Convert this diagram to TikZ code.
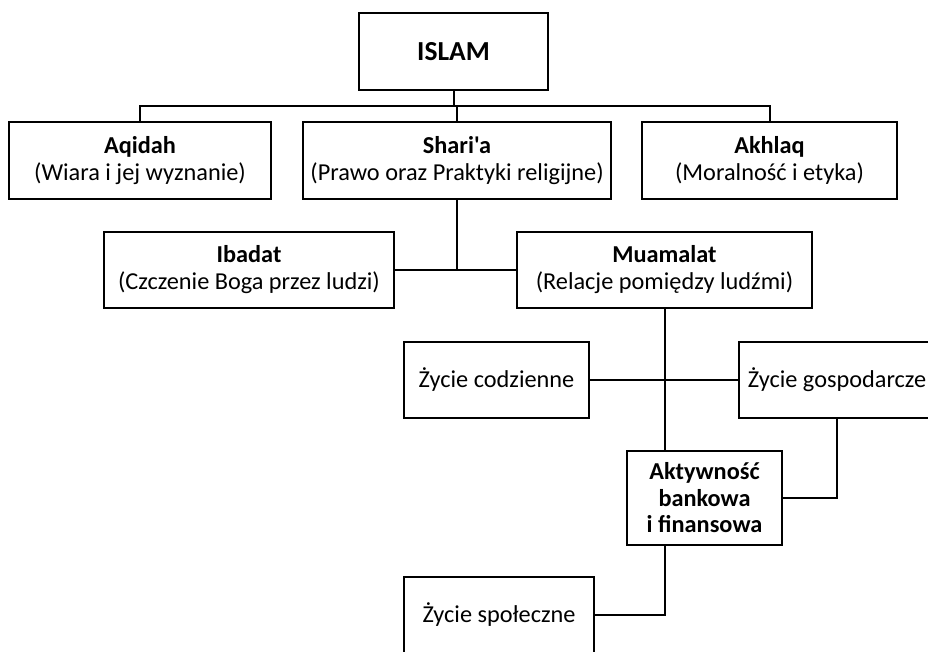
\documentclass[tikz,border=0pt]{standalone}
\usepackage{fontspec}
\setmainfont{Carlito}[Ligatures=TeXOff]
\begin{document}
\begin{tikzpicture}[x=1pt,y=-1pt,
  box/.style={draw=black,line width=2pt,fill=white,align=center,inner sep=0pt,
    font=\fontsize{24.3}{27}\selectfont},
  conn/.style={draw=black,line width=2pt}]
\useasboundingbox (0,0) rectangle (928,651);
\clip (0,0) rectangle (928,651);
% boxes
\node[box,minimum width=189pt,minimum height=77pt,font=\fontsize{27.5}{30}\selectfont\bfseries] (islam) at (453.5,51.5) {ISLAM};
\node[box,minimum width=262pt,minimum height=77pt] (aqidah) at (140,160.5) {\textbf{Aqidah}\\(Wiara i jej wyznanie)};
\node[box,minimum width=308pt,minimum height=77pt] (sharia) at (457,160.5) {\textbf{Shari'a}\\(Prawo oraz Praktyki religijne)};
\node[box,minimum width=255pt,minimum height=77pt] (akhlaq) at (769.5,160.5) {\textbf{Akhlaq}\\(Moralność i etyka)};
\node[box,minimum width=290pt,minimum height=76pt] (ibadat) at (249,270) {\textbf{Ibadat}\\(Czczenie Boga przez ludzi)};
\node[box,minimum width=295pt,minimum height=76pt] (muamalat) at (664.5,270) {\textbf{Muamalat}\\(Relacje pomiędzy ludźmi)};
\node[box,minimum width=185pt,minimum height=76pt] (codz) at (496.5,380) {Życie codzienne};
\node[box,minimum width=196pt,minimum height=76pt] (gosp) at (837,380) {Życie gospodarcze};
\node[box,minimum width=155pt,minimum height=94pt,font=\fontsize{24.3}{26.5}\selectfont\bfseries] (aktyw) at (704.5,498) {Aktywność\\bankowa\\i finansowa};
\node[box,minimum width=190pt,minimum height=76pt] (spol) at (499,615) {Życie społeczne};
% connectors
\coordinate (bus) at (0,106);
\draw[conn] (islam.south) -- (islam.south |- bus);
\draw[conn] (aqidah.north) -- (aqidah.north |- bus) -- (akhlaq.north |- bus) -- (akhlaq.north);
\draw[conn] (sharia.north |- bus) -- (sharia.north);
\draw[conn] (sharia.south) -- (sharia.south |- ibadat.east);
\draw[conn] (ibadat.east) -- (muamalat.west);
\draw[conn] (muamalat.south) -- (muamalat.south |- aktyw.north);
\draw[conn] (codz.east) -- (gosp.west);
\draw[conn] (gosp.south) |- (aktyw.east);
\draw[conn] (muamalat.south |- aktyw.south) |- (spol.east);
\end{tikzpicture}
\end{document}
